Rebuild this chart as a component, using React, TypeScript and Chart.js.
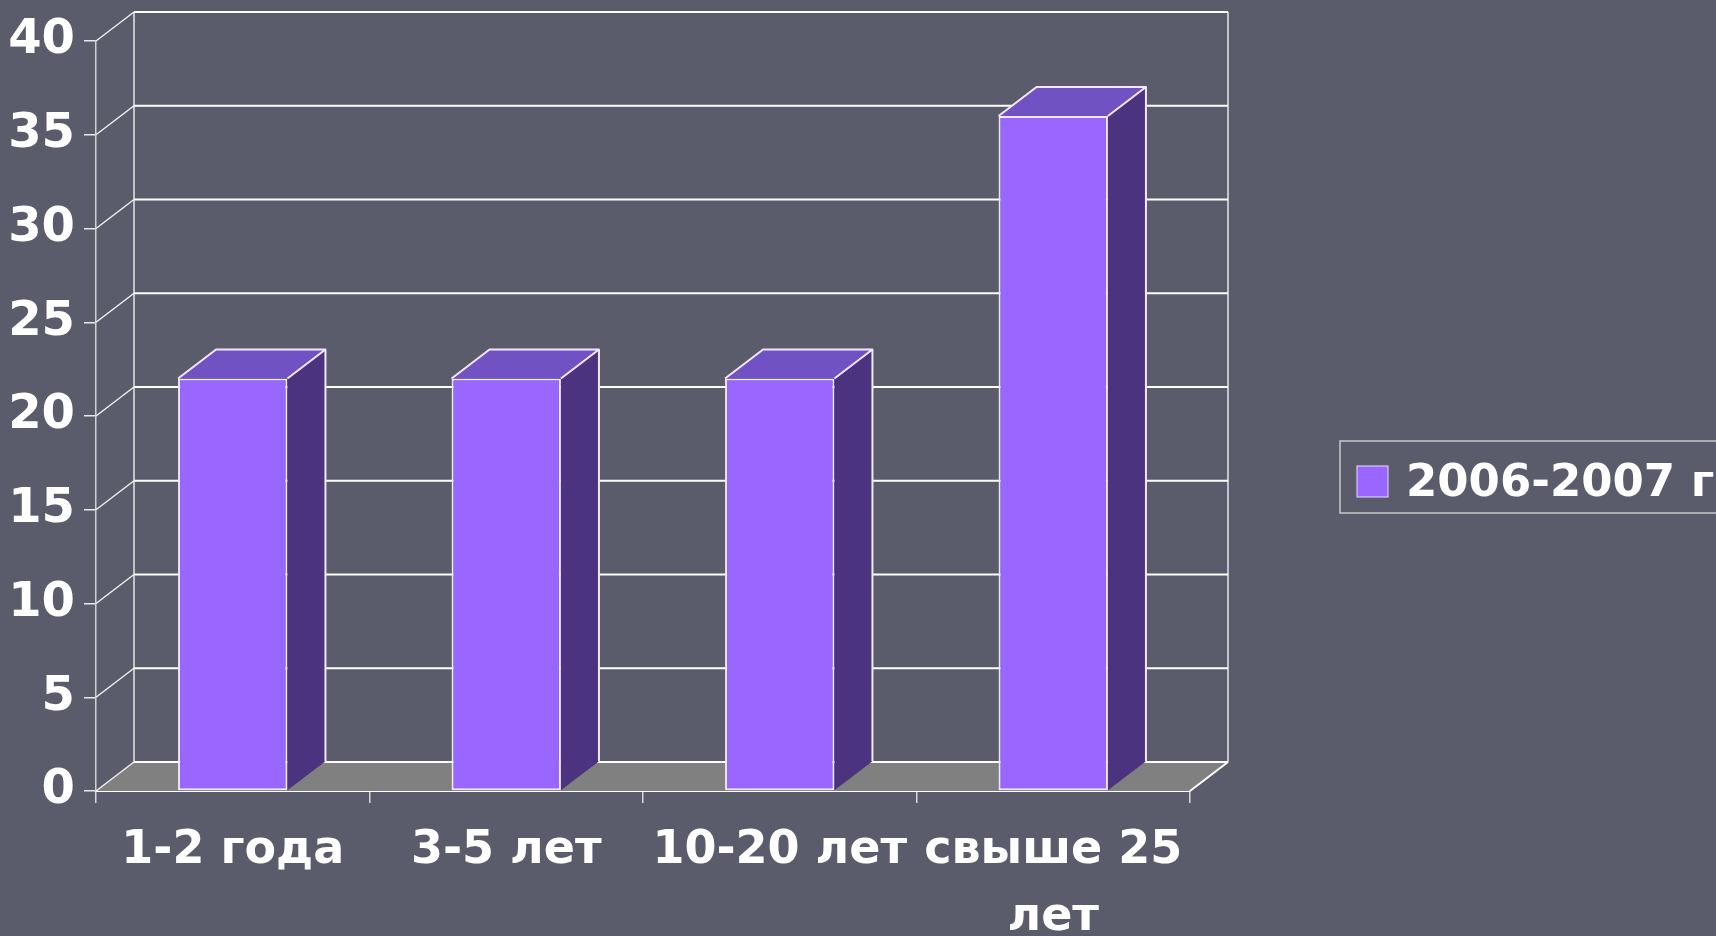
import React, { useEffect, useRef } from "react";
import { Chart, registerables } from "chart.js";

Chart.register(...registerables);

const categories: (string | string[])[] = ["1-2 года", "3-5 лет", "10-20 лет", ["свыше 25", "лет"]];
const seriesLabel = "2006-2007 г";
const seriesValues = [22, 22, 22, 36];
const yMin = 0;
const yMax = 40;
const yStep = 5;

const DX = 38;
const DY = -29;
const FRONT = "#9966ff";
const TOP = "#7152c2";
const SIDE = "#4b3380";
const EDGE = "#f1e8ff";
const LINE = "#ffffff";
const FLOOR = "#808080";
const BG = "#5a5b6b";

const threeD = {
  id: "threeD",
  beforeDatasetsDraw(chart: any) {
    const { ctx, chartArea, scales } = chart;
    const { left, right, top, bottom } = chartArea;
    const y = scales.y;
    ctx.save();
    // floor
    ctx.fillStyle = FLOOR;
    ctx.beginPath();
    ctx.moveTo(left, bottom);
    ctx.lineTo(left + DX, bottom + DY);
    ctx.lineTo(right + DX, bottom + DY);
    ctx.lineTo(right, bottom);
    ctx.closePath();
    ctx.fill();
    // back wall verticals
    ctx.strokeStyle = "#e8e8e8";
    ctx.lineWidth = 1.5;
    ctx.beginPath();
    ctx.moveTo(left + DX, top + DY);
    ctx.lineTo(left + DX, bottom + DY);
    ctx.moveTo(right + DX, top + DY);
    ctx.lineTo(right + DX, bottom + DY);
    ctx.stroke();
    // gridlines + connectors
    for (const t of y.ticks) {
      const py = y.getPixelForValue(t.value);
      ctx.strokeStyle = "#f0f0f0";
      ctx.lineWidth = 1.5;
      ctx.beginPath();
      ctx.moveTo(left, py);
      ctx.lineTo(left + DX, py + DY);
      ctx.stroke();
      ctx.strokeStyle = LINE;
      ctx.lineWidth = 2;
      ctx.beginPath();
      ctx.moveTo(left + DX, py + DY);
      ctx.lineTo(right + DX, py + DY);
      ctx.stroke();
    }
    // floor right diagonal
    ctx.strokeStyle = LINE;
    ctx.lineWidth = 2;
    ctx.beginPath();
    ctx.moveTo(right, bottom);
    ctx.lineTo(right + DX, bottom + DY);
    ctx.stroke();
    ctx.restore();
  },
  afterDatasetsDraw(chart: any) {
    const { ctx } = chart;
    const meta = chart.getDatasetMeta(0);
    ctx.save();
    ctx.lineJoin = "round";
    for (const bar of meta.data as any[]) {
      const w = bar.width;
      const l = bar.x - w / 2;
      const r = bar.x + w / 2;
      const t = bar.y;
      const b = bar.base;
      // side face
      ctx.fillStyle = SIDE;
      ctx.beginPath();
      ctx.moveTo(r, t);
      ctx.lineTo(r + DX, t + DY);
      ctx.lineTo(r + DX, b + DY);
      ctx.lineTo(r, b);
      ctx.closePath();
      ctx.fill();
      // top face
      ctx.fillStyle = TOP;
      ctx.beginPath();
      ctx.moveTo(l, t);
      ctx.lineTo(l + DX, t + DY);
      ctx.lineTo(r + DX, t + DY);
      ctx.lineTo(r, t);
      ctx.closePath();
      ctx.fill();
      // edges
      ctx.strokeStyle = EDGE;
      ctx.lineWidth = 2;
      ctx.beginPath();
      ctx.moveTo(l, t);
      ctx.lineTo(l + DX, t + DY);
      ctx.lineTo(r + DX, t + DY);
      ctx.lineTo(r, t);
      ctx.moveTo(r + DX, t + DY);
      ctx.lineTo(r + DX, b + DY);
      ctx.stroke();
    }
    ctx.restore();
  },
  afterDraw(chart: any) {
    const { ctx } = chart;
    const ds = chart.data.datasets[0];
    ctx.save();
    ctx.strokeStyle = "#c8c8cc";
    ctx.lineWidth = 1.5;
    ctx.strokeRect(1340, 441, 420, 72);
    ctx.fillStyle = ds.backgroundColor;
    ctx.fillRect(1357, 466, 31, 31);
    ctx.strokeStyle = "#e8e0ff";
    ctx.lineWidth = 1;
    ctx.strokeRect(1357, 466, 31, 31);
    ctx.fillStyle = "#ffffff";
    ctx.font = "bold 45px 'DejaVu Sans'";
    ctx.textAlign = "left";
    ctx.textBaseline = "middle";
    ctx.fillText(ds.label, 1406, 484);
    ctx.restore();
  },
};

export default function App() {
  const ref = useRef<HTMLCanvasElement | null>(null);
  useEffect(() => {
    document.body.style.margin = "0";
    document.body.style.background = BG;
    if (!ref.current) return;
    const chart = new Chart(ref.current, {
      type: "bar",
      data: {
        labels: categories as any,
        datasets: [
          {
            label: seriesLabel,
            data: seriesValues,
            backgroundColor: FRONT,
            borderColor: EDGE,
            borderWidth: 2,
            borderSkipped: false,
            categoryPercentage: 1,
            barPercentage: 0.4,
          },
        ],
      },
      options: {
        responsive: false,
        animation: false,
        devicePixelRatio: 1,
        layout: { padding: { top: 41, right: 526, left: 0, bottom: 0 } },
        plugins: { legend: { display: false }, tooltip: { enabled: false } },
        scales: {
          x: {
            offset: true,
            ticks: {
              color: "#ffffff",
              font: { family: "'DejaVu Sans'", weight: "bold", size: 46, lineHeight: 1.45 },
              padding: 15,
              maxRotation: 0,
              autoSkip: false,
            },
            grid: { display: true, offset: true, drawOnChartArea: false, drawTicks: true, tickLength: 12, color: "#d8d8d8", lineWidth: 1.5 },
            border: { display: true, color: LINE, width: 2 },
            afterFit(s: any) {
              s.height = 145;
            },
          },
          y: {
            min: yMin,
            max: yMax,
            ticks: {
              stepSize: yStep,
              color: "#ffffff",
              font: { family: "'DejaVu Sans'", weight: "bold", size: 48 },
              padding: 9,
            },
            grid: { display: true, drawOnChartArea: false, drawTicks: true, tickLength: 12, color: "#e8e8e8", lineWidth: 1.5 },
            border: { display: true, color: "#d0d0d0", width: 1.5 },
            afterFit(s: any) {
              s.width = 96;
            },
          },
        },
      },
      plugins: [threeD],
    });
    return () => chart.destroy();
  }, []);
  return (
    <div style={{ position: "fixed", left: 0, top: 0, width: 1716, height: 936, background: BG, overflow: "hidden" }}>
      <canvas ref={ref} width={1716} height={936} style={{ display: "block" }} />
    </div>
  );
}
